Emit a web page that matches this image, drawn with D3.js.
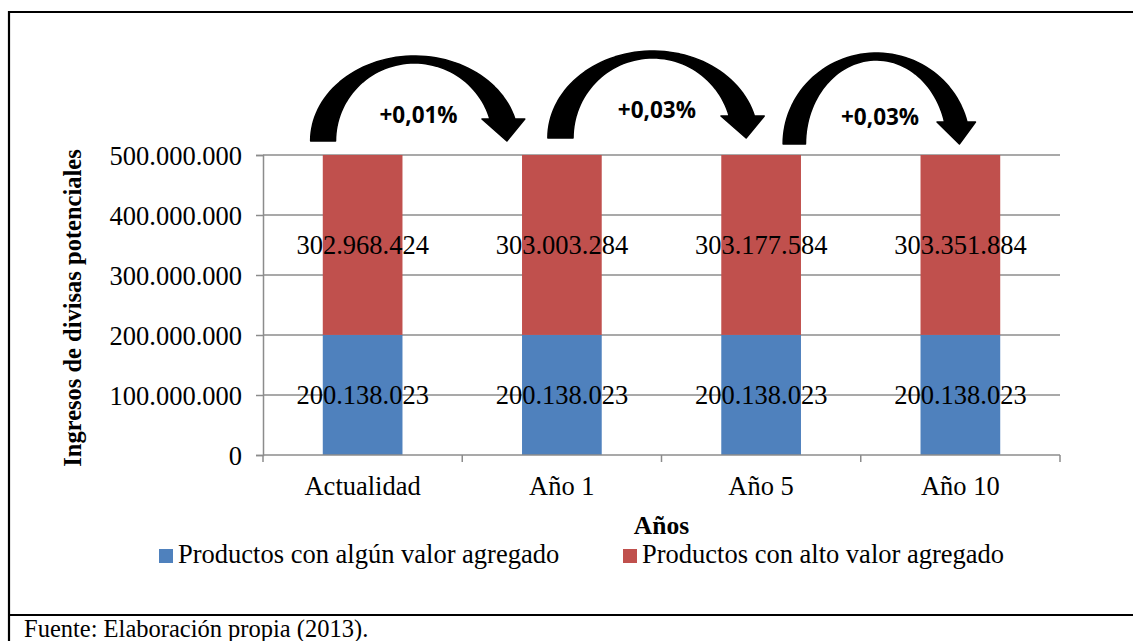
<!DOCTYPE html>
<html>
<head>
<meta charset="utf-8">
<script src="https://cdn.jsdelivr.net/npm/d3@7"></script>
<style>
  html, body { margin: 0; padding: 0; background: #fff; }
  svg { display: block; }
</style>
</head>
<body>
<svg id="chart" width="1133" height="641"></svg>
<script>
// Categories and series values
const categories = ["Actualidad", "Año 1", "Año 5", "Año 10"];
const seriesNames = ["Productos con algún valor agregado", "Productos con alto valor agregado"];
const algunValor = [200138023, 200138023, 200138023, 200138023];
const altoValor = [302968424, 303003284, 303177584, 303351884];
const yTicks = [0, 100000000, 200000000, 300000000, 400000000, 500000000];
const growthLabels = ["+0,01%", "+0,03%", "+0,03%"];

const colors = ["#4F81BD", "#C0504D"];
const fmt = v => d3.format(",")(v).replace(/,/g, ".");

const svg = d3.select("#chart");

// Frame lines of the surrounding table
svg.append("line").attr("x1", 9).attr("x2", 1133).attr("y1", 12).attr("y2", 12)
  .attr("stroke", "#000").attr("stroke-width", 2.2);
svg.append("line").attr("x1", 9).attr("x2", 9).attr("y1", 11).attr("y2", 641)
  .attr("stroke", "#000").attr("stroke-width", 2.2);
svg.append("line").attr("x1", 9).attr("x2", 1133).attr("y1", 615).attr("y2", 615)
  .attr("stroke", "#000").attr("stroke-width", 2.2);

const serif = "'Liberation Serif','Times New Roman',serif";
const numSize = 26.5;

const plot = { left: 263, right: 1060, top: 155, bottom: 455 };

const x = d3.scaleBand().domain(categories)
  .range([plot.left, plot.right]).paddingInner(0.6).paddingOuter(0.3);
const y = d3.scaleLinear().domain([0, 500000000])
  .range([plot.bottom, plot.top]).clamp(true);

const gridColor = "#8c8c8c";

// Horizontal gridlines
svg.append("g").selectAll("line").data(yTicks.slice(1)).join("line")
  .attr("x1", plot.left).attr("x2", plot.right)
  .attr("y1", d => y(d)).attr("y2", d => y(d))
  .attr("stroke", gridColor).attr("stroke-width", 1.5);

// Stacked bars
const stackData = categories.map((c, i) => ({ cat: c, a: algunValor[i], b: altoValor[i] }));
const stack = d3.stack().keys(["a", "b"])(stackData);

svg.append("g").selectAll("g").data(stack).join("g")
  .attr("fill", (d, i) => colors[i])
  .selectAll("rect").data(d => d).join("rect")
  .attr("x", d => x(d.data.cat))
  .attr("width", x.bandwidth())
  .attr("y", d => y(d[1]))
  .attr("height", d => y(d[0]) - y(d[1]));

// Y axis
const yAxis = svg.append("g").attr("transform", `translate(${plot.left},0)`)
  .call(d3.axisLeft(y).tickValues(yTicks).tickFormat(fmt).tickSize(7).tickPadding(14));
yAxis.select(".domain").attr("stroke", gridColor).attr("stroke-width", 1.5);
yAxis.selectAll(".tick line").attr("stroke", gridColor).attr("stroke-width", 1.5)
  .attr("x2", -7).attr("x1", 0);
yAxis.selectAll(".tick text").attr("font-family", serif).attr("font-size", numSize)
  .attr("fill", "#000").attr("dy", "0.34em");

// X axis line and boundary ticks
const step = x.step();
const boundaries = d3.range(categories.length + 1).map(i => plot.left + i * step);
svg.append("line").attr("x1", plot.left).attr("x2", plot.right)
  .attr("y1", plot.bottom).attr("y2", plot.bottom)
  .attr("stroke", gridColor).attr("stroke-width", 1.5);
svg.append("g").selectAll("line").data(boundaries).join("line")
  .attr("x1", d => d).attr("x2", d => d)
  .attr("y1", plot.bottom).attr("y2", plot.bottom + 7)
  .attr("stroke", gridColor).attr("stroke-width", 1.5);

// Category labels
svg.append("g").selectAll("text").data(categories).join("text")
  .attr("x", d => x(d) + x.bandwidth() / 2)
  .attr("y", 495)
  .attr("text-anchor", "middle")
  .attr("font-family", serif).attr("font-size", numSize)
  .text(d => d);

// Value labels inside the segments
svg.append("g").selectAll("g").data(stack).join("g")
  .selectAll("text").data(d => d).join("text")
  .attr("x", d => x(d.data.cat) + x.bandwidth() / 2)
  .attr("y", d => (y(d[0]) + y(d[1])) / 2)
  .attr("dy", "0.34em")
  .attr("text-anchor", "middle")
  .attr("font-family", serif).attr("font-size", numSize)
  .text(d => fmt(d[1] - d[0]));

// Axis titles
svg.append("text")
  .attr("transform", `translate(81,${(plot.top + plot.bottom) / 2 + 3}) rotate(-90)`)
  .attr("text-anchor", "middle")
  .attr("font-family", serif).attr("font-size", 24.5).attr("font-weight", "bold")
  .text("Ingresos de divisas potenciales");

svg.append("text")
  .attr("x", (plot.left + plot.right) / 2).attr("y", 534)
  .attr("text-anchor", "middle")
  .attr("font-family", serif).attr("font-size", 25.5).attr("font-weight", "bold")
  .text("Años");

// Legend
const legendItems = [
  { name: seriesNames[0], color: colors[0], x: 159 },
  { name: seriesNames[1], color: colors[1], x: 623 }
];
const lg = svg.append("g").selectAll("g").data(legendItems).join("g")
  .attr("transform", d => `translate(${d.x},549)`);
lg.append("rect").attr("width", 14).attr("height", 14).attr("fill", d => d.color);
lg.append("text").attr("x", 19).attr("y", 14)
  .attr("font-family", serif).attr("font-size", numSize)
  .text(d => d.name);

// Curved growth arrows between consecutive categories
function arrowPath(L, d, F, T) {
  const s = d / 197;
  const w = 25 * s;
  const rxo = 104.3 * s, ryo = F - T;
  const cxo = L + rxo;
  const rxi = 79.1 * s, ryi = F - (T + 7);
  const cxi = L + w + rxi;
  const by = F - 22;
  const xi = cxi + rxi * Math.sqrt(1 - Math.pow(22 / ryi, 2));
  const p = d3.path();
  p.moveTo(L, F);
  // outer edge
  const pts = 60;
  for (let k = 0; k <= pts; k++) {
    const ang = Math.PI - k / pts * (Math.PI - Math.asin(22 / ryo));
    p.lineTo(cxo + rxo * Math.cos(ang), F - ryo * Math.sin(ang));
  }
  p.lineTo(L + 215 * s, by);
  p.lineTo(L + d, F);
  p.lineTo(L + 172 * s, by);
  p.lineTo(xi, by);
  // inner edge back to the foot
  const a0 = Math.asin(22 / ryi);
  for (let k = 0; k <= pts; k++) {
    const ang = a0 + k / pts * (Math.PI - a0);
    p.lineTo(cxi + rxi * Math.cos(ang), F - ryi * Math.sin(ang));
  }
  p.lineTo(L + w, F);
  p.closePath();
  return p.toString();
}

const centers = categories.map(c => x(c) + x.bandwidth() / 2);
const arrowLayout = [
  { startOff: -52, tipOff: -55, foot: 141, top: 56, textY: 123 },
  { startOff: -14, tipOff: -15, foot: 138, top: 51, textY: 118 },
  { startOff: 22, tipOff: -1, foot: 144, top: 53, textY: 125 }
];

const arrows = svg.append("g").selectAll("g").data(growthLabels).join("g");
arrows.append("path")
  .attr("d", (lab, i) => {
    const a = arrowLayout[i];
    const L = centers[i] + a.startOff;
    const tip = centers[i + 1] + a.tipOff;
    return arrowPath(L, tip - L, a.foot, a.top);
  })
  .attr("fill", "#000").attr("stroke", "#000").attr("stroke-width", 1.5)
  .attr("stroke-linejoin", "round");
arrows.append("text")
  .attr("x", (lab, i) => {
    const a = arrowLayout[i];
    const L = centers[i] + a.startOff;
    const tip = centers[i + 1] + a.tipOff;
    return L + 0.55 * (tip - L);
  })
  .attr("y", (lab, i) => arrowLayout[i].textY)
  .attr("text-anchor", "middle")
  .attr("font-family", "'Open Sans','Liberation Sans',sans-serif")
  .attr("font-size", 22.5).attr("font-weight", "bold")
  .text(d => d);

// Source note
svg.append("text").attr("x", 24).attr("y", 637)
  .attr("font-family", serif).attr("font-size", 24.5)
  .text("Fuente: Elaboración propia (2013).");
</script>
</body>
</html>
